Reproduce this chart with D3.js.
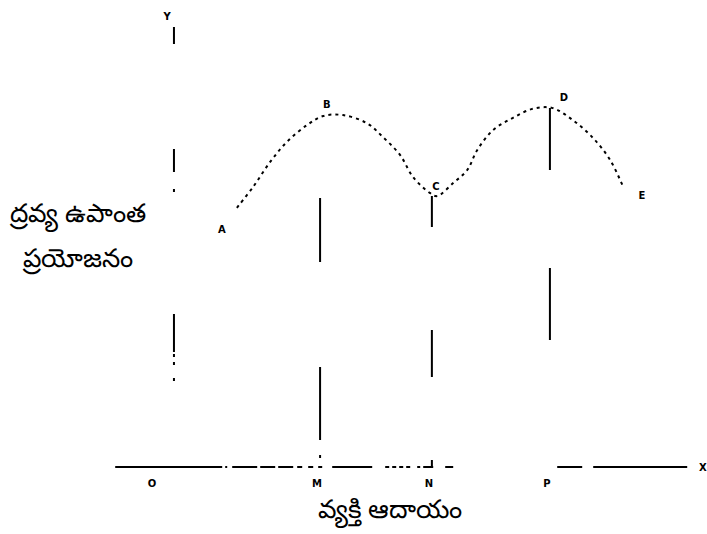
<!DOCTYPE html>
<html><head><meta charset="utf-8">
<script src="https://cdn.jsdelivr.net/npm/d3@7"></script>
<style>body{margin:0;background:#fff}svg{display:block}</style>
</head><body><svg id="c" width="707" height="534"></svg>
<script>
// Curve of marginal utility of money vs income (data units)
const curveX = [11.9, 15.0, 18.3, 21.5, 25.4, 28.5, 32.3, 36.9, 40.0, 43.3, 45.8, 49.0, 50.4, 53.5, 56.2, 58.1, 61.2, 65.0, 68.8, 72.5, 76.5, 80.4, 83.7, 86.2];
const curveY = [57.6, 62.2, 67.8, 72.2, 76.0, 78.0, 78.2, 76.4, 73.3, 69.3, 64.4, 60.9, 60.2, 63.1, 66.0, 70.4, 74.9, 77.6, 79.6, 79.8, 77.1, 73.1, 68.2, 62.2];
// drop lines (peak, trough, peak)
const dropX = [27.9, 49.4, 72.1];
const dropY = [78.0, 60.2, 79.8];
// point labels
const pointNames = ["A", "B", "C", "D", "E"];
const pointX = [9.0, 29.2, 50.2, 74.8, 89.8];
const pointY = [52.0, 79.8, 61.6, 81.3, 59.6];
const tickNames = ["M", "N", "P"];
const yTitle = ["ద్రవ్య ఉపాంత", "ప్రయోజనం"];
const xTitle = "వ్యక్తి ఆదాయం";

const svg = d3.select("#c");
const x = d3.scaleLinear().domain([0, 100]).range([175, 695]);
const y = d3.scaleLinear().domain([0, 100]).range([467, 17]);

// x axis (broken line)
svg.append("line").attr("x1", x(-11.5)).attr("x2", x(98.5)).attr("y1", y(0)).attr("y2", y(0))
  .attr("stroke", "#000").attr("stroke-width", 2)
  .attr("stroke-dasharray", "107,3,2,5,25,3,15,3,15,4,5,6,5,5,4,10,40,13,4,3,4,3,4,3,4,7,3,3,10,12,8,104,25,11,94");
// y axis (broken line), drawn top-down
svg.append("line").attr("x1", x(-0.2)).attr("x2", x(-0.2)).attr("y1", y(97.8)).attr("y2", y(0))
  .attr("stroke", "#000").attr("stroke-width", 2)
  .attr("stroke-dasharray", "17,105,23,17,3,122,38,2,3,5,3,13,3,200");

// curve
svg.append("path")
  .datum(curveX.map((d, i) => [d, curveY[i]]))
  .attr("fill", "none").attr("stroke", "#000").attr("stroke-width", 2)
  .attr("stroke-dasharray", "3,4")
  .attr("d", d3.line().x(d => x(d[0])).y(d => y(d[1])).curve(d3.curveCatmullRom));

// drop lines
const dashes = ["0,82,64,105,73,15,3,20", "31,103,47,83,8", "62,98,72,200"];
dropX.forEach((dx, i) => {
  svg.append("line").attr("x1", x(dx)).attr("x2", x(dx)).attr("y1", y(dropY[i])).attr("y2", y(0))
    .attr("stroke", "#000").attr("stroke-width", 2).attr("stroke-dasharray", dashes[i]);
});

function lab(t, px, py) {
  svg.append("text").text(t).attr("x", px).attr("y", py).attr("text-anchor", "middle")
    .attr("font-family", "DejaVu Sans").attr("font-size", 10).attr("font-weight", "bold");
}
pointNames.forEach((n, i) => lab(n, x(pointX[i]), y(pointY[i])));
tickNames.forEach((n, i) => lab(n, x(dropX[i]) - 3, y(0) + 20));
lab("Y", x(0) - 8, 20);
lab("O", x(-4.4), y(0) + 20);
lab("X", x(101.5), y(0) + 4);

// axis titles
svg.append("text").attr("font-family", "Noto Sans").attr("font-size", 26).attr("text-anchor", "middle")
  .selectAll("tspan").data(yTitle).join("tspan")
  .attr("x", 78).attr("y", (d, i) => 222 + i * 45).text(d => d);
svg.append("text").attr("font-family", "Noto Sans").attr("font-size", 26).attr("text-anchor", "middle")
  .attr("x", 390).attr("y", 518).text(xTitle);
</script></body></html>
